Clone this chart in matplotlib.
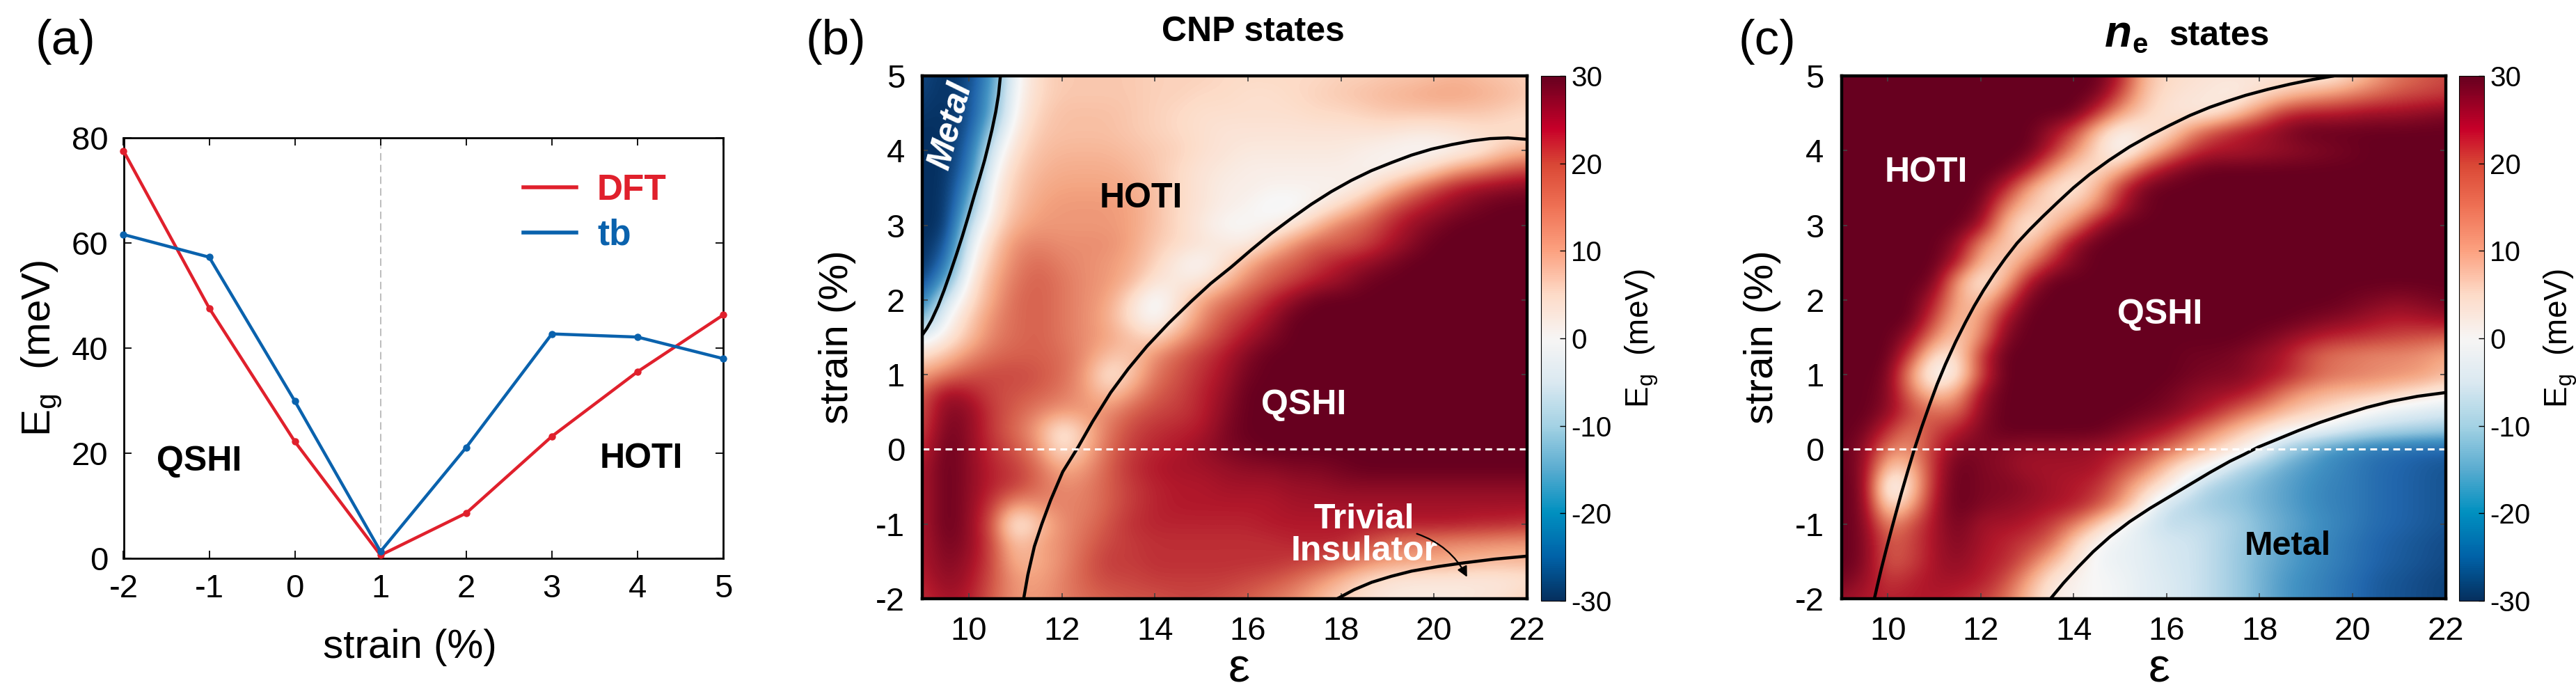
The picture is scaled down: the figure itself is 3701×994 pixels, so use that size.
#!/usr/bin/env python3
import numpy as np
import matplotlib
matplotlib.use("Agg")
import matplotlib.pyplot as plt
from matplotlib.cm import ScalarMappable
from matplotlib.colors import LinearSegmentedColormap, Normalize

plt.rcParams['font.family'] = ['Liberation Sans', 'DejaVu Sans']
plt.rcParams['axes.unicode_minus'] = False
plt.rcParams['mathtext.fontset'] = 'custom'
plt.rcParams['mathtext.rm'] = 'Liberation Sans'
plt.rcParams['mathtext.it'] = 'Liberation Sans:italic'
plt.rcParams['mathtext.bf'] = 'Liberation Sans:bold'
plt.rcParams['mathtext.default'] = 'regular'

W, H = 3701, 994

# panel a
strain_a = [-2, -1, 0, 1, 2, 3, 4, 5]
gap_dft = [77.5, 47.6, 22.2, 0.6, 8.6, 23.2, 35.5, 46.3]
gap_tb = [61.6, 57.3, 29.9, 1.3, 21.1, 42.7, 42.1, 38.0]

# heatmap grids, first row is strain 5, last is strain -2
eps_grid = [9, 9.5, 10, 10.5, 11, 11.5, 12, 12.5, 13, 13.5, 14, 14.5, 15, 15.5, 16, 16.5, 17, 17.5,
            18, 18.5, 19, 19.5, 20, 20.5, 21, 21.5, 22]
strain_grid = [5, 4.75, 4.5, 4.25, 4, 3.75, 3.5, 3.25, 3, 2.75, 2.5, 2.25, 2, 1.75, 1.5, 1.25, 1, 0.75,
               0.5, 0.25, 0, -0.25, -0.5, -0.75, -1, -1.25, -1.5, -1.75, -2]

gap_cnp = [
    [-27,-30,-28,-18,-1,6,8,8,8,  8,7,7,7,6,6,6,6,6,  7,7,8,8,9,10,9,8,7],
    [-28,-30,-27,-16,0,6,8,8,8,  8,7,7,6,6,5,5,6,7,  8,9,10,11,12,12,11,10,8],
    [-29,-30,-27,-15,1,7,9,9,9,  8,7,6,5,5,5,5,5,6,  6,7,8,8,8,8,8,7,6],
    [-30,-30,-26,-10,3,8,9,9,9,  8,7,6,5,4,4,4,4,4,  4,4,4,3,3,4,5,5,5],
    [-30,-30,-24,-5,5,9,10,10,10,  9,8,7,5,4,3,3,3,3,  3,2,1,0,0,1,3,8,10],
    [-30,-30,-22,-2,7,10,11,11,11,  10,8,6,4,3,2,2,2,2,  2,1,1,3,7,12,15,18,20],
    [-30,-30,-18,1,8,11,12,12,12,  11,9,6,4,2,2,1,1,1,  1,3,9,15,20,24,26,27,28],
    [-30,-30,-14,2,9,12,13,13,13,  12,9,6,4,2,1,-1,-1,2,  6,12,18,22,25,27,29,30,30],
    [-30,-30,-8,4,11,13,13,13,13,  12,9,6,3,0,0,1,4,10,  16,18,22,26,28,30,30,30,30],
    [-30,-27,-4,7,14,15,14,14,14,  12,8,6,4,3,2,8,14,18,  18,20,24,27,30,30,30,30,30],
    [-30,-23,-1,9,15,17,15,14,13,  11,7,2,0,4,11,16,18,21,  24,26,28,30,30,30,30,30,30],
    [-28,-16,2,11,16,18,16,14,13,  10,4,3,3,9,15,18,21,24,  26,29,30,30,30,30,30,30,30],
    [-22,-6,4,12,17,18,16,14,12,  5,-2,4,12,16,19,23,27,30,  30,30,30,30,30,30,30,30,30],
    [-15,-1,7,14,17,18,16,14,11,  4,-1,6,14,19,22,26,30,30,  30,30,30,30,30,30,30,30,30],
    [-3,2,9,15,17,18,16,14,12,  9,6,12,17,21,25,28,30,30,  30,30,30,30,30,30,30,30,30],
    [5,9,14,17,18,18,17,14,9,  8,14,18,21,24,28,30,30,30,  30,30,30,30,30,30,30,30,30],
    [12,16,19,20,20,19,17,13,3,  8,16,19,22,25,29,30,30,30,  30,30,30,30,30,30,30,30,30],
    [18,26,24,20,19,18,16,13,8,  13,18,20,23,26,30,30,30,30,  30,30,30,30,30,30,30,30,30],
    [19,28,27,21,18,15,13,13,14,  18,20,21,23,27,30,30,30,30,  30,30,30,30,30,30,30,30,30],
    [20,29,27,21,17,12,2,9,16,  20,22,23,24,28,30,30,30,30,  30,30,30,30,30,30,30,30,30],
    [22,30,27,22,19,14,4,10,17,  21,23,24,26,28,29,30,30,30,  30,30,30,30,30,30,30,30,30],
    [24,30,27,23,21,17,11,13,18,  22,24,25,25,26,27,27,28,28,  29,30,30,30,30,30,30,30,30],
    [24,30,27,23,21,17,14,15,18,  21,23,24,24,25,25,25,26,26,  27,27,27,27,27,27,27,27,27],
    [24,30,27,21,12,14,15,15,18,  21,23,24,24,24,24,24,25,25,  25,25,25,25,25,25,25,25,25],
    [24,30,27,19,1,8,14,16,19,  22,23,23,23,23,23,24,24,24,  24,24,24,24,24,24,23,23,22],
    [24,29,27,20,8,12,14,17,20,  21,22,22,22,22,22,22,23,23,  23,20,17,15,15,14,14,13,13],
    [24,28,26,20,10,11,14,18,21,  21,22,22,22,22,22,22,21,20,  18,15,13,12,12,11,10,10,10],
    [23,27,25,19,13,12,15,18,20,  20,21,21,21,21,20,19,17,14,  10,6,4,3,3,3,3,3,4],
    [22,25,24,18,13,13,15,17,18,  19,19,20,20,19,18,16,14,10,  7,5,3,3,3,3,4,5,8],
]

gap_ne = [
    [30,30,30,30,30,30,30,30,30,  30,30,30,24,10,6,5,4,4,  4,4,3,3,7,12,16,18,20],
    [30,30,30,30,30,30,30,30,30,  30,30,29,20,9,5,4,3,2,  5,8,11,13,15,17,19,20,21],
    [30,30,30,30,30,30,30,30,30,  30,30,22,12,7,4,3,3,8,  15,22,24,24,25,26,26,27,28],
    [30,30,30,30,30,30,30,30,30,  26,20,8,1,3,5,14,20,24,  26,28,30,30,30,30,30,30,30],
    [30,30,30,30,30,30,30,30,30,  24,14,6,-1,6,14,21,24,24,  25,26,27,28,29,30,30,30,30],
    [30,30,30,30,30,30,30,30,25,  14,6,5,10,20,26,29,30,30,  30,30,30,30,30,30,30,30,30],
    [30,30,30,30,30,30,30,24,12,  5,3,10,22,29,30,30,30,30,  30,30,30,30,30,30,30,30,30],
    [30,30,30,30,30,30,29,16,8,  6,8,14,24,29,30,30,30,30,  30,30,30,30,30,30,30,30,30],
    [30,30,30,30,30,30,26,10,3,  8,15,26,30,30,30,30,30,30,  30,30,30,30,30,30,30,30,30],
    [30,30,30,30,30,27,14,8,7,  16,27,30,30,30,30,30,30,30,  30,30,30,30,30,30,30,30,30],
    [30,30,30,30,30,24,10,6,14,  23,28,30,30,30,30,30,30,30,  30,30,30,30,30,30,30,30,30],
    [30,30,30,30,29,12,2,9,24,  30,30,30,30,30,30,30,30,30,  30,30,30,30,30,30,30,30,30],
    [30,30,30,30,24,11,8,18,29,  30,30,30,30,30,30,30,30,30,  30,30,30,30,29,28,27,28,29],
    [30,30,30,30,20,9,12,25,30,  30,30,30,30,30,30,30,30,30,  30,30,29,28,27,25,24,25,26],
    [30,30,30,26,14,7,14,28,30,  30,30,30,30,30,30,30,30,30,  29,27,25,23,22,21,20,19,18],
    [30,30,30,20,4,5,22,30,30,  30,30,30,30,30,30,29,29,28,  26,24,19,16,15,14,14,13,11],
    [30,30,29,12,-2,3,20,30,30,  30,30,30,30,30,30,29,28,28,  26,24,20,17,16,15,14,13,10],
    [30,30,28,16,8,12,26,30,30,  30,30,30,30,30,29,27,26,25,  22,16,12,10,9,8,6,4,2],
    [30,30,27,20,17,17,27,30,30,  30,30,30,30,29,28,26,23,18,  14,10,7,5,2,-1,-3,-4,-5],
    [30,29,22,15,20,24,28,30,30,  30,30,30,28,26,24,19,14,9,  5,1,-1,-3,-6,-8,-9,-10,-11],
    [30,27,15,14,22,28,28,27,26,  26,26,25,24,21,17,12,7,3,  -2,-10,-14,-18,-20,-22,-23,-24,-24],
    [30,27,7,9,23,30,28,27,25,  25,25,25,20,16,8,2,-2,-8,  -12,-15,-17,-19,-21,-23,-24,-25,-26],
    [30,28,-3,6,24,30,28,28,27,  25,24,22,16,8,3,-5,-10,-12,  -14,-16,-18,-20,-21,-23,-24,-25,-26],
    [30,28,4,11,25,30,28,27,26,  25,24,20,13,3,-7,-9,-11,-12,  -14,-16,-18,-20,-21,-23,-24,-25,-26],
    [30,28,14,19,25,29,25,25,24,  21,16,8,0,-4,-8,-7,-8,-10,  -13,-15,-17,-19,-21,-23,-24,-25,-26],
    [30,28,18,20,25,28,25,23,21,  18,7,0,-2,-3,-5,-6,-8,-11,  -13,-16,-18,-20,-22,-24,-25,-26,-27],
    [30,28,18,20,25,27,24,23,18,  10,4,-1,-2,-3,-5,-6,-8,-11,  -14,-16,-18,-20,-22,-24,-25,-26,-27],
    [29,26,21,23,25,25,24,20,12,  4,1,0,-1,-3,-4,-6,-8,-11,  -14,-17,-19,-21,-23,-25,-26,-27,-28],
    [26,24,23,24,24,23,21,17,9,  3,1,0,-1,-3,-4,-6,-8,-11,  -14,-17,-19,-21,-23,-25,-26,-27,-28],
]

# phase boundaries (eps, strain)
cnp_hoti_eps = [11.18, 11.27, 11.41, 11.57, 11.76, 12.02, 12.35, 12.66, 13.05, 13.43, 13.83, 14.3, 14.78, 15.2, 15.64,
                16.07, 16.5, 16.93, 17.36, 17.79, 18.22, 18.65, 19.09, 19.52, 19.95, 20.38, 20.81, 21.2, 21.59, 22]
cnp_hoti_strain = [-2, -1.68, -1.3, -1.0, -0.68, -0.3, 0.03, 0.37, 0.76, 1.08, 1.38, 1.69, 1.98, 2.22, 2.44,
                   2.67, 2.89, 3.09, 3.28, 3.45, 3.6, 3.73, 3.84, 3.94, 4.02, 4.08, 4.13, 4.16, 4.17, 4.15]
cnp_metal_eps = [9, 9.1, 9.2, 9.34, 9.47, 9.6, 9.73, 9.86, 9.99, 10.12, 10.23, 10.34, 10.42, 10.5, 10.58, 10.64, 10.68]
cnp_metal_strain = [1.53, 1.62, 1.73, 1.92, 2.13, 2.36, 2.6, 2.85, 3.12, 3.4, 3.63, 3.87, 4.07, 4.28, 4.52, 4.75, 5]
cnp_triv_eps = [17.92, 18.28, 18.66, 19.08, 19.52, 20.08, 20.64, 21.3, 22]
cnp_triv_strain = [-2, -1.88, -1.78, -1.7, -1.63, -1.57, -1.52, -1.47, -1.43]

ne_hoti_eps = [9.71, 9.78, 9.86, 9.97, 10.08, 10.18, 10.29, 10.43, 10.57, 10.73, 10.9, 11.06, 11.24, 11.46, 11.67, 11.86,
               12.06, 12.29, 12.53, 12.78, 13.05, 13.34, 13.66, 13.99, 14.34, 14.76, 15.2, 15.63, 16.07, 16.5, 16.93,
               17.3, 17.7, 18.18, 18.66, 19.13, 19.6]
ne_hoti_strain = [-2, -1.81, -1.6, -1.33, -1.07, -0.84, -0.59, -0.29, 0, 0.3, 0.6, 0.87, 1.14, 1.44, 1.7, 1.92,
                  2.13, 2.35, 2.56, 2.76, 2.94, 3.12, 3.31, 3.5, 3.68, 3.87, 4.05, 4.2, 4.34, 4.47, 4.58,
                  4.66, 4.74, 4.82, 4.89, 4.95, 5]
ne_metal_eps = [13.5, 13.78, 14.09, 14.42, 14.78, 15.2, 15.64, 16.07, 16.5, 16.93, 17.36, 17.66, 17.97, 18.4, 18.83,
                19.3, 19.78, 20.3, 20.81, 21.4, 22]
ne_metal_strain = [-2, -1.79, -1.58, -1.37, -1.17, -0.97, -0.79, -0.63, -0.47, -0.31, -0.16, -0.07, 0.03, 0.14, 0.25,
                   0.36, 0.46, 0.56, 0.64, 0.71, 0.76]

# colours of the colourbar strip, they differ a bit from the map itself
cbar_colors = ['#05305f', '#0062a8', '#0090c0', '#5aacd0', '#a4d2e4', '#dbe9f1', '#f7f5f4',
               '#fddbc8', '#fca180', '#ef7255', '#d94735', '#c80029', '#67001f']
cbar_stops = [0, 0.083, 0.167, 0.25, 0.333, 0.417, 0.5, 0.583, 0.667, 0.75, 0.833, 0.9, 1]


def make_axes(fig, x0, x1, y0, y1):
    # pixel box of the reference -> figure fraction
    return fig.add_axes([x0 / W, 1 - y1 / H, (x1 - x0) / W, (y1 - y0) / H])


def plot_lines(fig):
    ax = make_axes(fig, 177.5, 1039, 198, 802)
    ax.plot(strain_a, gap_dft, color='#e0202c', lw=3.2, marker='o', ms=6.5, clip_on=False, label='DFT', zorder=3)
    ax.plot(strain_a, gap_tb, color='#0a62ad', lw=3.2, marker='o', ms=6.5, clip_on=False, label='tb', zorder=4)
    ax.axvline(1, color='#aaaaaa', lw=1.1, ls=(0, (7, 4)), zorder=1)
    ax.set_xlim(-2, 5)
    ax.set_ylim(0, 80)
    ax.set_xticks(strain_a)
    ax.set_yticks([0, 20, 40, 60, 80])
    ax.tick_params(direction='in', top=True, right=True, length=8, width=1.3, labelsize=34, pad=16)
    for s in ax.spines.values():
        s.set_linewidth(2)
    ax.set_xlabel('strain (%)', fontsize=42, labelpad=25, x=0.478)
    ax.set_ylabel('E$_{g}$  (meV)', fontsize=42, labelpad=8)
    ax.text(-1.12, 18.4, 'QSHI', fontsize=36, fontweight='bold', ha='center', va='center')
    ax.text(4.04, 18.9, 'HOTI', fontsize=36, fontweight='bold', ha='center', va='center')
    leg = ax.legend(loc='upper left', bbox_to_anchor=(0.667, 0.915), frameon=False, borderpad=0, borderaxespad=0,
                    handlelength=1.48, handletextpad=0.58, labelspacing=0.3, labelcolor='linecolor',
                    prop={'weight': 'bold', 'size': 37})
    for h in leg.legend_handles:
        h.set_marker('')
        h.set_linewidth(4)
    return ax


def plot_map(fig, box, cbar_box, grid, curves, ylab_pad, xlab_x):
    ax = make_axes(fig, *box)
    ax.imshow(np.array(grid, dtype=float), cmap='RdBu_r', vmin=-30, vmax=30, aspect='auto',
              interpolation='bicubic', origin='upper',
              extent=[eps_grid[0] - 0.25, eps_grid[-1] + 0.25, strain_grid[-1] - 0.125, strain_grid[0] + 0.125])
    for (xs, ys) in curves:
        ax.plot(xs, ys, color='black', lw=3.2, solid_joinstyle='round', solid_capstyle='butt')
    ax.axhline(0, color='white', lw=2.2, ls=(0, (3.2, 2.2)))
    ax.set_xlim(9, 22)
    ax.set_ylim(-2, 5)
    ax.set_xticks([10, 12, 14, 16, 18, 20, 22])
    ax.set_yticks([-2, -1, 0, 1, 2, 3, 4, 5])
    ax.tick_params(direction='in', top=True, right=True, length=6, width=1.2, color='#444444', labelsize=34, pad=18)
    for s in ax.spines.values():
        s.set_linewidth(3.2)
    ax.set_xlabel('\u03b5', fontsize=50, labelpad=0, x=xlab_x)
    ax.set_ylabel('strain (%)', fontsize=42, labelpad=ylab_pad)

    cax = make_axes(fig, *cbar_box)
    cmap = LinearSegmentedColormap.from_list('strip', list(zip(cbar_stops, cbar_colors)))
    cb = fig.colorbar(ScalarMappable(Normalize(-30, 30), cmap), cax=cax)
    cb.set_ticks([-30, -20, -10, 0, 10, 20, 30])
    cb.ax.tick_params(direction='in', length=6, width=1, labelsize=29, pad=6)
    cb.outline.set_linewidth(0.8)
    cb.set_label('E$_{g}$  (meV)', fontsize=33, labelpad=12)
    return ax


def main():
    fig = plt.figure(figsize=(W / 100, H / 100), dpi=100)
    plot_lines(fig)

    ax_b = plot_map(fig, (1325, 2194, 109, 860), (2214, 2249, 109, 863), gap_cnp,
                    [(cnp_hoti_eps, cnp_hoti_strain), (cnp_metal_eps, cnp_metal_strain), (cnp_triv_eps, cnp_triv_strain)],
                    20, 0.524)
    ax_b.text(13.7, 3.36, 'HOTI', fontsize=36, fontweight='bold', ha='center', va='center')
    ax_b.text(17.2, 0.59, 'QSHI', fontsize=36, fontweight='bold', color='white', ha='center', va='center')
    ax_b.text(18.5, -0.94, 'Trivial', fontsize=36, fontweight='bold', color='white', ha='center', va='center')
    ax_b.text(18.5, -1.37, 'Insulator', fontsize=36, fontweight='bold', color='white', ha='center', va='center')
    ax_b.text(9.62, 4.33, 'Metal', fontsize=36, fontweight='bold', style='italic', color='white',
              rotation=75, ha='center', va='center')
    ax_b.annotate('', xy=(20.71, -1.71), xytext=(19.63, -1.13),
                  arrowprops=dict(arrowstyle='-|>', color='black', lw=1.6, mutation_scale=22,
                                  connectionstyle='arc3,rad=-0.2', shrinkA=0, shrinkB=0))

    ax_c = plot_map(fig, (2645.5, 3513.5, 109, 860), (3533, 3569, 109, 863), gap_ne,
                    [(ne_hoti_eps, ne_hoti_strain), (ne_metal_eps, ne_metal_strain)],
                    14, 0.526)
    ax_c.text(10.83, 3.7, 'HOTI', fontsize=36, fontweight='bold', color='white', ha='center', va='center')
    ax_c.text(15.86, 1.8, 'QSHI', fontsize=36, fontweight='bold', color='white', ha='center', va='center')
    ax_c.text(18.6, -1.3, 'Metal', fontsize=35, fontweight='bold', ha='center', va='center')

    fig.text(1800 / W, 1 - 46 / H, 'CNP states', fontsize=36, fontweight='bold', ha='center', va='center')
    fig.text(3024 / W, 1 - 67 / H, 'n', fontsize=46, fontweight='bold', style='italic', ha='left', va='baseline')
    fig.text(3063 / W, 1 - 76 / H, 'e', fontsize=29, fontweight='bold', ha='left', va='baseline')
    fig.text(3116 / W, 1 - 65 / H, 'states', fontsize=36, fontweight='bold', ha='left', va='baseline')
    fig.text(51 / W, 1 - 60 / H, '(a)', fontsize=51, ha='left', va='center')
    fig.text(1158 / W, 1 - 60 / H, '(b)', fontsize=51, ha='left', va='center')
    fig.text(2498 / W, 1 - 60 / H, '(c)', fontsize=51, ha='left', va='center')

    fig.savefig('out.png', dpi=100)


if __name__ == "__main__":
    main()
